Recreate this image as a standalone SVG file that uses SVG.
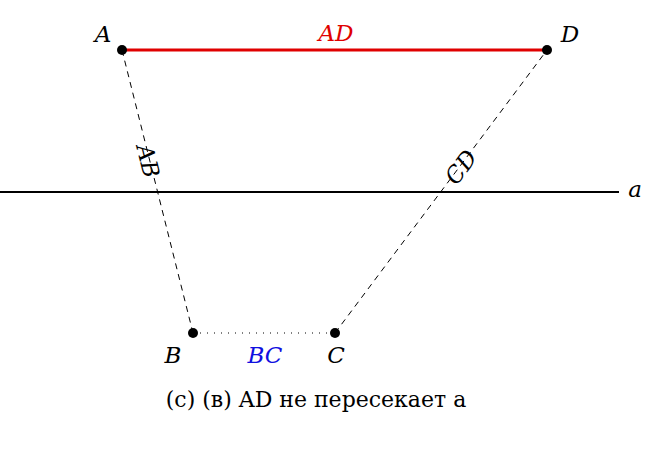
<svg xmlns="http://www.w3.org/2000/svg" width="657" height="460" viewBox="0 0 657 460">
<style>
.lbl{font-family:"DejaVu Serif","Liberation Serif",serif;font-style:italic;font-size:23px;fill:#000}
.cap{font-family:"DejaVu Serif","Liberation Serif",serif;font-size:22px;fill:#000}
.dash{stroke:#000;stroke-width:1;stroke-dasharray:6,5;fill:none}
</style>
<rect width="657" height="460" fill="#fff"/>
<g id="connectors">
<line id="line-a" x1="0" y1="192" x2="619" y2="192" stroke="#000" stroke-width="2"/>
<line id="AD" x1="122" y1="50" x2="547" y2="50" stroke="#e00000" stroke-width="3"/>
<line id="AB" x1="122" y1="50" x2="193" y2="333" class="dash"/>
<line id="CD" x1="335" y1="333" x2="547" y2="50" class="dash"/>
<line id="BC" x1="193" y1="333" x2="335" y2="333" stroke="#000" stroke-width="1" stroke-dasharray="1,6"/>
<text class="lbl" x="336" y="41" text-anchor="middle" style="fill:#e00000">AD</text>
<text class="lbl" x="265" y="363" text-anchor="middle" style="fill:#1010e0">BC</text>
<text class="lbl" transform="translate(148,161) rotate(75.9)" text-anchor="middle" dy="8">AB</text>
<text class="lbl" transform="translate(461,167) rotate(-53.2)" text-anchor="middle" dy="8">CD</text>
</g>
<g id="node-A"><circle cx="122" cy="50" r="5"/><text class="lbl" x="103" y="42" text-anchor="middle">A</text></g>
<g id="node-D"><circle cx="547" cy="50" r="5"/><text class="lbl" x="570" y="42" text-anchor="middle">D</text></g>
<g id="node-B"><circle cx="193" cy="333" r="5"/><text class="lbl" x="173" y="363" text-anchor="middle">B</text></g>
<g id="node-C"><circle cx="335" cy="333" r="5"/><text class="lbl" x="336" y="363" text-anchor="middle">C</text></g>
<g id="label-a"><text class="lbl" x="635" y="197" text-anchor="middle">a</text></g>
<g id="caption"><text class="cap" x="316" y="407" text-anchor="middle">(c) (в) AD не пересекает a</text></g>
</svg>
